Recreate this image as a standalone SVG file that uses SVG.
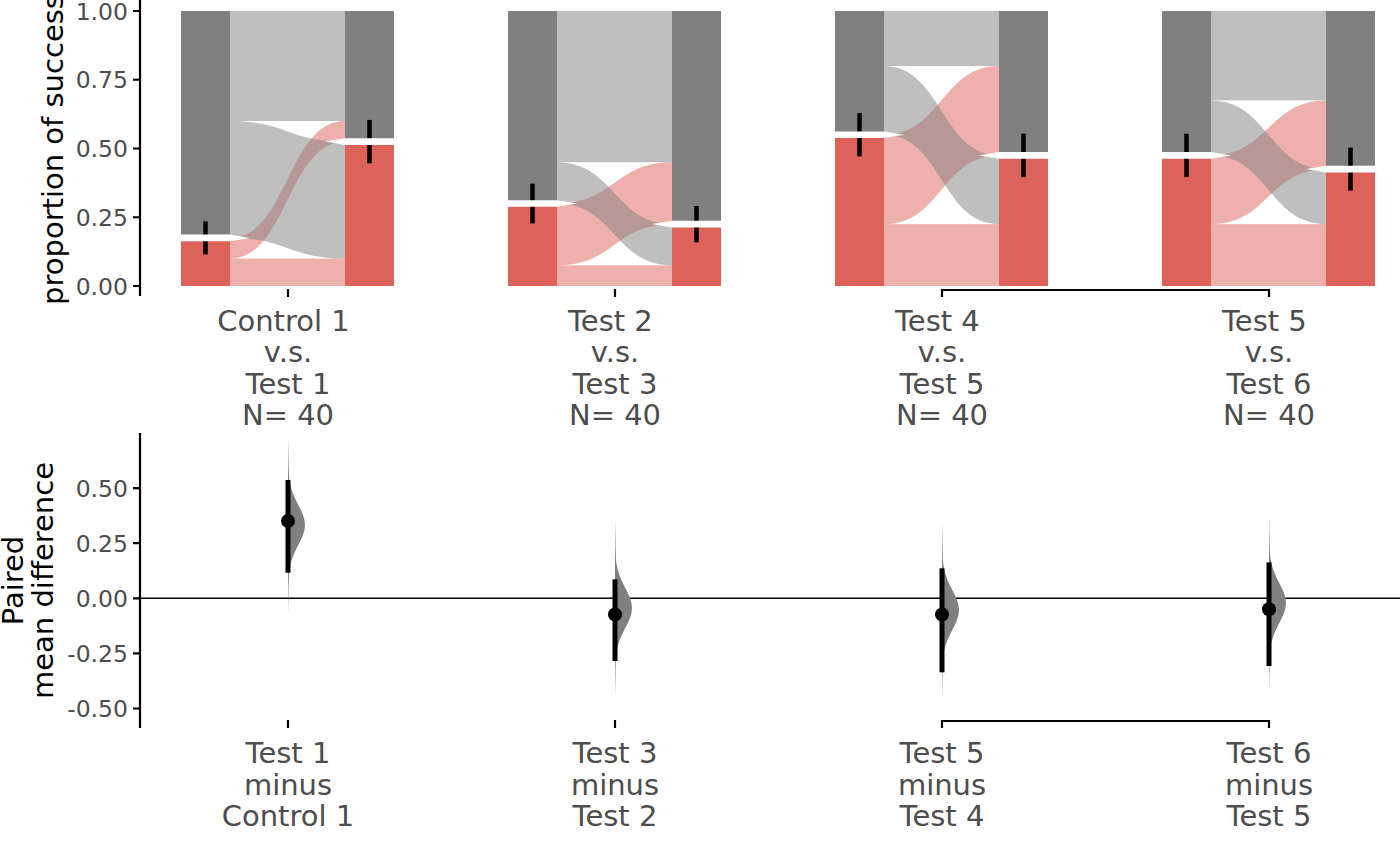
<svg xmlns="http://www.w3.org/2000/svg" width="1400" height="865" viewBox="0 0 1400 865">
<style>
  .bg{fill:#ffffff}
  .gb{fill:#808080}
  .rb{fill:#DD625A}
  .gr{fill:#808080;fill-opacity:0.5}
  .rr{fill:#DD625A;fill-opacity:0.5}
  .gap{fill:#ffffff}
  .eb{stroke:#000;stroke-width:4.5;fill:none}
  .ax{stroke:#000;stroke-width:2.2;fill:none}
  .tk{stroke:#000;stroke-width:2.2;fill:none}
  .zero{stroke:#000;stroke-width:1.4;fill:none}
  .ci{stroke:#000;stroke-width:5;fill:none}
  .vio{fill:#808080}
  .tl{font-family:"DejaVu Sans",sans-serif;font-size:23.5px;fill:#4D4D4D;text-anchor:end}
  .cl{font-family:"DejaVu Sans",sans-serif;font-size:29px;fill:#4D4D4D;text-anchor:middle}
  .at{font-family:"DejaVu Sans",sans-serif;font-size:29px;fill:#000;text-anchor:middle}
</style>
<defs>
  <path id="violin" d="M0,-88 L0.4,-70 L0.6,-60 L0.9,-50 L1.35,-45 L2.3,-40 L3.68,-35 L5.52,-30 L7.78,-25 L10.31,-20 L12.83,-15 L15,-10 L16.48,-5 L17,0 L16.48,5 L15,10 L12.83,15 L10.31,20 L7.78,25 L5.52,30 L3.68,35 L2.3,40 L1.35,45 L0.9,50 L0.6,60 L0.4,70 L0,90 Z"/>
</defs>
<rect class="bg" x="0" y="0" width="1400" height="865"/>

<!-- flows between paired bars -->
<g id="connectors">
  <g id="flows-p1">
    <rect class="rr" x="230" y="258.5" width="115" height="27.5"/>
    <path class="rr" d="M230,237.875 C287.5,237.875 287.5,121 345,121 L345,141.625 C287.5,141.625 287.5,258.5 230,258.5 Z"/>
    <path class="gr" d="M230,121 C287.5,121 287.5,141.625 345,141.625 L345,258.5 C287.5,258.5 287.5,237.875 230,237.875 Z"/>
    <rect class="gr" x="230" y="11" width="115" height="110"/>
  </g>
  <g id="flows-p2">
    <rect class="rr" x="557" y="265.375" width="115" height="20.625"/>
    <path class="rr" d="M557,203.5 C614.5,203.5 614.5,162.25 672,162.25 L672,224.125 C614.5,224.125 614.5,265.375 557,265.375 Z"/>
    <path class="gr" d="M557,162.25 C614.5,162.25 614.5,224.125 672,224.125 L672,265.375 C614.5,265.375 614.5,203.5 557,203.5 Z"/>
    <rect class="gr" x="557" y="11" width="115" height="151.25"/>
  </g>
  <g id="flows-p3">
    <rect class="rr" x="884" y="224.125" width="115" height="61.875"/>
    <path class="rr" d="M884,134.75 C941.5,134.75 941.5,66 999,66 L999,155.375 C941.5,155.375 941.5,224.125 884,224.125 Z"/>
    <path class="gr" d="M884,66 C941.5,66 941.5,155.375 999,155.375 L999,224.125 C941.5,224.125 941.5,134.75 884,134.75 Z"/>
    <rect class="gr" x="884" y="11" width="115" height="55"/>
  </g>
  <g id="flows-p4">
    <rect class="rr" x="1211" y="224.125" width="115" height="61.875"/>
    <path class="rr" d="M1211,155.375 C1268.5,155.375 1268.5,100.375 1326,100.375 L1326,169.125 C1268.5,169.125 1268.5,224.125 1211,224.125 Z"/>
    <path class="gr" d="M1211,100.375 C1268.5,100.375 1268.5,169.125 1326,169.125 L1326,224.125 C1268.5,224.125 1268.5,155.375 1211,155.375 Z"/>
    <rect class="gr" x="1211" y="11" width="115" height="89.375"/>
  </g>
</g>

<!-- bars -->
<g id="bars-p1">
  <rect class="gb" x="181" y="11" width="49" height="226.875"/>
  <rect class="rb" x="181" y="237.875" width="49" height="48.125"/>
  <rect class="gb" x="345" y="11" width="49" height="130.625"/>
  <rect class="rb" x="345" y="141.625" width="49" height="144.375"/>
  <line class="eb" x1="205.5" y1="221.35" x2="205.5" y2="254.4"/>
  <line class="eb" x1="369.5" y1="119.9" x2="369.5" y2="163.3"/>
  <polygon class="gap" points="181,234.6 230,234.6 250,237.9 230,241.2 181,241.2"/>
  <polygon class="gap" points="394,138.3 345,138.3 325,141.6 345,144.9 394,144.9"/>
</g>
<g id="bars-p2">
  <rect class="gb" x="508" y="11" width="49" height="192.5"/>
  <rect class="rb" x="508" y="203.5" width="49" height="82.5"/>
  <rect class="gb" x="672" y="11" width="49" height="213.125"/>
  <rect class="rb" x="672" y="224.125" width="49" height="61.875"/>
  <line class="eb" x1="532.5" y1="183.6" x2="532.5" y2="223.4"/>
  <line class="eb" x1="696.5" y1="206" x2="696.5" y2="242.3"/>
  <polygon class="gap" points="508,200.2 557,200.2 577,203.5 557,206.8 508,206.8"/>
  <polygon class="gap" points="721,220.8 672,220.8 652,224.1 672,227.4 721,227.4"/>
</g>
<g id="bars-p3">
  <rect class="gb" x="835" y="11" width="49" height="123.75"/>
  <rect class="rb" x="835" y="134.75" width="49" height="151.25"/>
  <rect class="gb" x="999" y="11" width="49" height="144.375"/>
  <rect class="rb" x="999" y="155.375" width="49" height="130.625"/>
  <line class="eb" x1="859.5" y1="113.1" x2="859.5" y2="156.4"/>
  <line class="eb" x1="1023.5" y1="133.7" x2="1023.5" y2="177.1"/>
  <polygon class="gap" points="835,131.45 884,131.45 904,134.75 884,138.05 835,138.05"/>
  <polygon class="gap" points="1048,152.1 999,152.1 979,155.4 999,158.7 1048,158.7"/>
</g>
<g id="bars-p4">
  <rect class="gb" x="1162" y="11" width="49" height="144.375"/>
  <rect class="rb" x="1162" y="155.375" width="49" height="130.625"/>
  <rect class="gb" x="1326" y="11" width="49" height="158.125"/>
  <rect class="rb" x="1326" y="169.125" width="49" height="116.875"/>
  <line class="eb" x1="1186.5" y1="133.7" x2="1186.5" y2="177.1"/>
  <line class="eb" x1="1350.5" y1="147.6" x2="1350.5" y2="190.6"/>
  <polygon class="gap" points="1162,152.1 1211,152.1 1231,155.4 1211,158.7 1162,158.7"/>
  <polygon class="gap" points="1375,165.8 1326,165.8 1306,169.1 1326,172.4 1375,172.4"/>
</g>

<!-- top axes -->
<g id="top-axis">
  <path class="ax" d="M140,0 V296"/>
  <path class="tk" d="M133,11 H140 M133,79.75 H140 M133,148.5 H140 M133,217.25 H140 M133,286 H140"/>
  <text class="tl" x="128" y="19.6">1.00</text>
  <text class="tl" x="128" y="88.35">0.75</text>
  <text class="tl" x="128" y="157.1">0.50</text>
  <text class="tl" x="128" y="225.85">0.25</text>
  <text class="tl" x="128" y="294.6">0.00</text>
  <path class="tk" d="M288,289 V297 M615,289 V297 M942,297 V290 H1269 V297"/>
  <text class="at" transform="translate(63,149.5) rotate(-90)">proportion of success</text>
</g>

<g id="top-labels">
  <text class="cl" x="283.4" y="331">Control 1</text>
  <text class="cl" x="288" y="362.3">v.s.</text>
  <text class="cl" x="288" y="393.6">Test 1</text>
  <text class="cl" x="288" y="425">N= 40</text>
  <text class="cl" x="610.4" y="331">Test 2</text>
  <text class="cl" x="615" y="362.3">v.s.</text>
  <text class="cl" x="615" y="393.6">Test 3</text>
  <text class="cl" x="615" y="425">N= 40</text>
  <text class="cl" x="937.4" y="331">Test 4</text>
  <text class="cl" x="942" y="362.3">v.s.</text>
  <text class="cl" x="942" y="393.6">Test 5</text>
  <text class="cl" x="942" y="425">N= 40</text>
  <text class="cl" x="1264.4" y="331">Test 5</text>
  <text class="cl" x="1269" y="362.3">v.s.</text>
  <text class="cl" x="1269" y="393.6">Test 6</text>
  <text class="cl" x="1269" y="425">N= 40</text>
</g>

<!-- bottom panel -->
<g id="bottom-axis">
  <path class="zero" d="M140,598.3 H1400"/>
  <path class="ax" d="M140,433 V728"/>
  <path class="tk" d="M133,488.1 H140 M133,543.2 H140 M133,598.3 H140 M133,653.4 H140 M133,708.5 H140"/>
  <text class="tl" x="128" y="496.7">0.50</text>
  <text class="tl" x="128" y="551.8">0.25</text>
  <text class="tl" x="128" y="606.9">0.00</text>
  <text class="tl" x="128" y="662">-0.25</text>
  <text class="tl" x="128" y="717.1">-0.50</text>
  <path class="tk" d="M288,720 V728 M615,720 V728 M942,728 V721 H1269 V728"/>
  <text class="at" transform="translate(23,580.5) rotate(-90)">Paired</text>
  <text class="at" transform="translate(53,580.5) rotate(-90)">mean difference</text>
</g>

<g id="delta-1">
  <use href="#violin" class="vio" transform="translate(288,525)"/>
  <line class="ci" x1="288" y1="480" x2="288" y2="572.7"/>
  <circle cx="288" cy="521" r="7" fill="#000"/>
</g>
<g id="delta-2">
  <use href="#violin" class="vio" transform="translate(615,608)"/>
  <line class="ci" x1="615" y1="579.3" x2="615" y2="661"/>
  <circle cx="615" cy="614.5" r="7" fill="#000"/>
</g>
<g id="delta-3">
  <use href="#violin" class="vio" transform="translate(942,610)"/>
  <line class="ci" x1="942" y1="568.3" x2="942" y2="672.3"/>
  <circle cx="942" cy="614.5" r="7" fill="#000"/>
</g>
<g id="delta-4">
  <use href="#violin" class="vio" transform="translate(1269,603)"/>
  <line class="ci" x1="1269" y1="562.3" x2="1269" y2="666"/>
  <circle cx="1269" cy="609.2" r="7" fill="#000"/>
</g>

<g id="bottom-labels">
  <text class="cl" x="288" y="763.3">Test 1</text>
  <text class="cl" x="288" y="794.8">minus</text>
  <text class="cl" x="288" y="826.3">Control 1</text>
  <text class="cl" x="615" y="763.3">Test 3</text>
  <text class="cl" x="615" y="794.8">minus</text>
  <text class="cl" x="615" y="826.3">Test 2</text>
  <text class="cl" x="942" y="763.3">Test 5</text>
  <text class="cl" x="942" y="794.8">minus</text>
  <text class="cl" x="942" y="826.3">Test 4</text>
  <text class="cl" x="1269" y="763.3">Test 6</text>
  <text class="cl" x="1269" y="794.8">minus</text>
  <text class="cl" x="1269" y="826.3">Test 5</text>
</g>
</svg>
